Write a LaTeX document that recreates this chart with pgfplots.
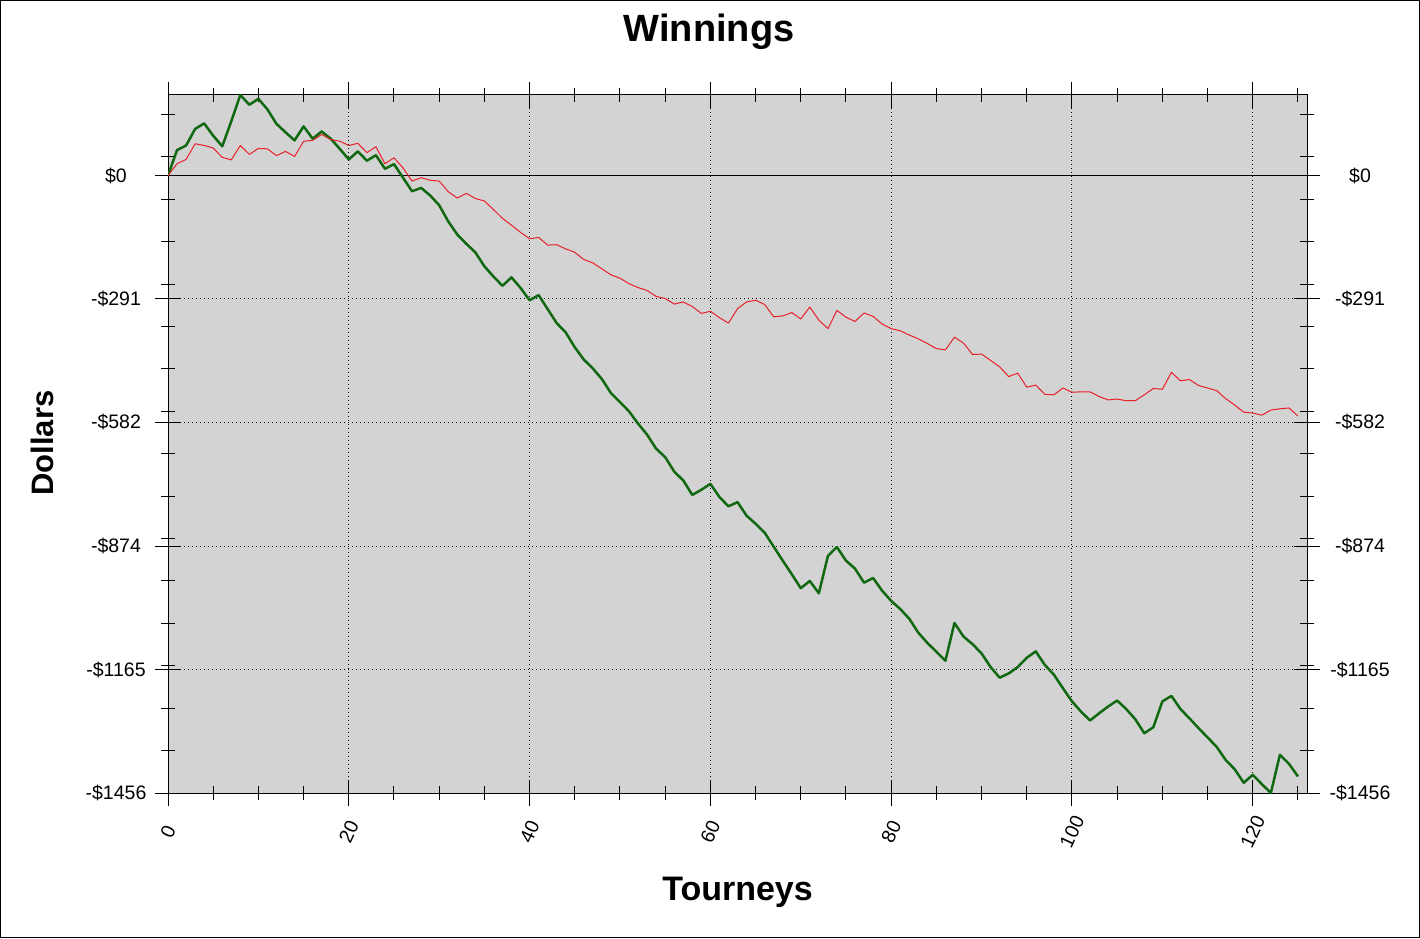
\documentclass[border=0pt]{standalone}
\usepackage{fontspec}
\setmainfont{Liberation Sans}
\usepackage{pgfplots}
\usepackage{pgfplotstable}
\pgfplotsset{compat=1.18}

\definecolor{plotbg}{RGB}{211,211,211}
\definecolor{wingreen}{RGB}{16,104,16}
\definecolor{winred}{RGB}{232,32,40}

% tourney number, cumulative winnings (green), second series (red)
\pgfplotstableread{
x green red
0 0 0
1 60 28
2 71 38
3 110 75
4 123 71
5 94 65
6 69 43
7 128 37
8 190 71
9 167 50
10 181 64
11 156 63
12 122 47
13 102 57
14 83 45
15 116 81
16 87 83
17 104 97
18 87 85
19 63 81
20 38 71
21 57 76
22 35 54
23 48 68
24 16 28
25 27 42
26 -5 18
27 -37 -13
28 -29 -5
29 -47 -11
30 -70 -13
31 -108 -38
32 -139 -53
33 -161 -42
34 -181 -54
35 -214 -60
36 -238 -80
37 -260 -101
38 -240 -117
39 -265 -134
40 -294 -149
41 -282 -146
42 -315 -164
43 -348 -163
44 -370 -173
45 -405 -181
46 -434 -198
47 -455 -206
48 -480 -220
49 -513 -234
50 -534 -242
51 -556 -255
52 -585 -264
53 -611 -271
54 -644 -285
55 -664 -290
56 -698 -303
57 -719 -298
58 -753 -309
59 -741 -325
60 -727 -320
61 -758 -335
62 -780 -348
63 -770 -314
64 -802 -298
65 -821 -294
66 -842 -304
67 -875 -333
68 -908 -331
69 -940 -323
70 -973 -338
71 -956 -310
72 -985 -341
73 -897 -361
74 -876 -318
75 -908 -334
76 -927 -344
77 -960 -324
78 -949 -332
79 -979 -350
80 -1003 -361
81 -1022 -366
82 -1045 -376
83 -1078 -385
84 -1102 -396
85 -1123 -408
86 -1144 -411
87 -1055 -381
88 -1087 -395
89 -1105 -422
90 -1127 -421
91 -1159 -436
92 -1184 -451
93 -1174 -474
94 -1159 -466
95 -1137 -499
96 -1122 -494
97 -1154 -516
98 -1177 -517
99 -1209 -501
100 -1240 -511
101 -1264 -510
102 -1285 -510
103 -1268 -521
104 -1252 -529
105 -1238 -527
106 -1258 -531
107 -1282 -531
108 -1315 -517
109 -1301 -502
110 -1240 -504
111 -1227 -464
112 -1258 -484
113 -1280 -481
114 -1303 -495
115 -1325 -501
116 -1347 -507
117 -1378 -526
118 -1400 -541
119 -1432 -558
120 -1413 -560
121 -1435 -565
122 -1456 -553
123 -1366 -550
124 -1387 -548
125 -1417 -567
}\winnings

\pgfplotsset{
  winframe/.style={
    at={(168pt,145pt)}, anchor=south west,
    scale only axis, width=1139pt, height=698pt,
    xmin=0, xmax=126, ymin=-1456, ymax=190,
    ytick={-1456,-1165,-874,-582,-291,0},
    yticklabels={-\$1456,-\$1165,-\$874,-\$582,-\$291,\$0},
    tick label style={font=\fontsize{19.5}{22}\selectfont},
    /pgf/number format/assume math mode=true,
  }
}

\begin{document}
\begin{tikzpicture}[x=1pt,y=1pt]
\useasboundingbox (0,0) rectangle (1420,938);
\draw[line width=1pt] (0.5,0.5) rectangle (1419.5,937.5);

\begin{axis}[
  winframe,
  axis background/.style={fill=plotbg},
  axis line style={line width=1pt},
  xtick={0,20,...,120},
  xticklabels={0,20,40,60,80,100,120},
  minor xtick={0,5,...,125},
  minor ytick={-1356,-1256,...,144},
  tick align=center,
  major tick length=26pt, minor tick length=14pt,
  tick style={black, line width=1pt},
  grid=major,
  major grid style={black, line width=1pt, dash pattern=on 1pt off 3pt},
  yticklabel style={anchor=center, xshift=-39pt},
  xticklabel style={anchor=center, yshift=-26pt, rotate=65},
  title={Winnings},
  title style={font=\bfseries\fontsize{38}{42}\selectfont,
    at={(axis description cs:0.475,1.0685)}, anchor=base},
  xlabel={Tourneys},
  xlabel style={font=\bfseries\fontsize{34}{38}\selectfont,
    at={(axis description cs:0.5,-0.1533)}, anchor=base},
  ylabel={Dollars},
  ylabel style={font=\bfseries\fontsize{31}{36}\selectfont,
    at={(axis description cs:-0.1007,0.5014)}, anchor=base, rotate=0},
]
\addplot[black, line width=1pt] coordinates {(0,0) (126,0)};
\addplot[wingreen, line width=2.5pt, line join=round] table[x=x, y=green] {\winnings};
\addplot[winred, line width=1pt, line join=round] table[x=x, y=red] {\winnings};
\end{axis}

\begin{axis}[
  winframe,
  hide x axis,
  xtick=\empty,
  axis line style={draw=none},
  yticklabel pos=right,
  major tick length=0pt, minor tick length=0pt,
  yticklabel style={anchor=center, xshift=53pt},
]
\end{axis}
\end{tikzpicture}
\end{document}
